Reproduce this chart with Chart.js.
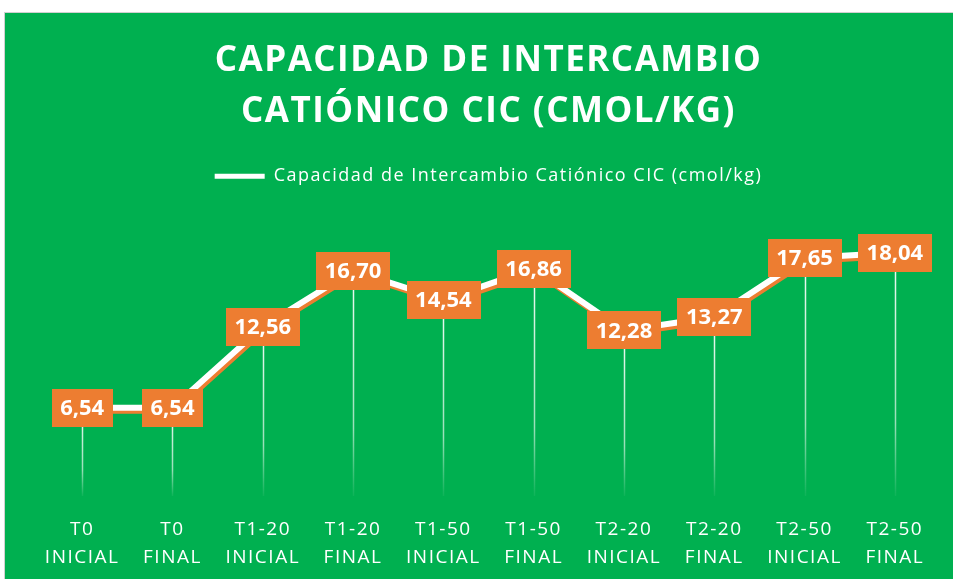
<!DOCTYPE html>
<html>
<head>
<meta charset="utf-8">
<script src="https://cdn.jsdelivr.net/npm/chart.js@4/dist/chart.umd.min.js"></script>
<style>
  html, body { margin: 0; padding: 0; background: #ffffff; }
  #wrap { position: absolute; left: 4px; top: 12px; width: 949px; height: 567px; background: #00B050; border-left: 1px solid #d0d0d0; border-top: 1px solid #d0d0d0; box-sizing: border-box; }
  canvas { display: block; }
</style>
</head>
<body>
<div id="wrap"><canvas id="c"></canvas></div>
<script>
const categories = [
  ["T0", "INICIAL"], ["T0", "FINAL"], ["T1-20", "INICIAL"], ["T1-20", "FINAL"],
  ["T1-50", "INICIAL"], ["T1-50", "FINAL"], ["T2-20", "INICIAL"], ["T2-20", "FINAL"],
  ["T2-50", "INICIAL"], ["T2-50", "FINAL"]
];
const cicValues = [6.54, 6.54, 12.56, 16.70, 14.54, 16.86, 12.28, 13.27, 17.65, 18.04];
const seriesName = "Capacidad de Intercambio Catiónico CIC (cmol/kg)";
const titleLines = ["CAPACIDAD DE INTERCAMBIO", "CATIÓNICO CIC (CMOL/KG)"];

const ORANGE = "#ED7D31";

const spacing = {
  id: "spacing",
  beforeUpdate(chart) { chart.ctx.letterSpacing = "1.5px"; },
  beforeLayout(chart) { chart.ctx.letterSpacing = "1.5px"; },
  beforeDraw(chart) { chart.ctx.letterSpacing = "1.5px"; }
};

const dropLines = {
  id: "dropLines",
  beforeDatasetsDraw(chart) {
    const ctx = chart.ctx;
    const meta = chart.getDatasetMeta(0);
    const bottom = chart.scales.y.getPixelForValue(0);
    ctx.save();
    meta.data.forEach(pt => {
      const g = ctx.createLinearGradient(0, pt.y, 0, bottom);
      g.addColorStop(0, "rgba(255,255,255,0.95)");
      g.addColorStop(0.7, "rgba(255,255,255,0.6)");
      g.addColorStop(1, "rgba(255,255,255,0.05)");
      ctx.strokeStyle = g;
      ctx.lineWidth = 1.5;
      ctx.beginPath();
      ctx.moveTo(Math.round(pt.x) + 0.5, pt.y);
      ctx.lineTo(Math.round(pt.x) + 0.5, bottom);
      ctx.stroke();
    });
    ctx.restore();
  }
};

const lineShadow = {
  id: "lineShadow",
  beforeDatasetDraw(chart) {
    const ctx = chart.ctx;
    ctx.save();
    ctx.shadowColor = ORANGE;
    ctx.shadowOffsetX = 2;
    ctx.shadowOffsetY = 3;
    ctx.shadowBlur = 0;
  },
  afterDatasetDraw(chart) {
    chart.ctx.restore();
  }
};

const valueLabels = {
  id: "valueLabels",
  afterDatasetsDraw(chart) {
    const ctx = chart.ctx;
    const meta = chart.getDatasetMeta(0);
    const data = chart.data.datasets[0].data;
    ctx.save();
    ctx.letterSpacing = "0px";
    ctx.font = "bold 22px 'Open Sans'";
    ctx.textAlign = "center";
    ctx.textBaseline = "middle";
    meta.data.forEach((pt, i) => {
      const txt = data[i].toFixed(2).replace(".", ",");
      const w = ctx.measureText(txt).width + 17;
      const h = 38;
      ctx.fillStyle = ORANGE;
      ctx.fillRect(Math.round(pt.x - w / 2), Math.round(pt.y - h / 2), Math.round(w), h);
      ctx.fillStyle = "#ffffff";
      ctx.fillText(txt, pt.x, pt.y + 1);
    });
    ctx.restore();
  }
};

new Chart(document.getElementById("c"), {
  type: "line",
  data: {
    labels: categories,
    datasets: [{
      label: seriesName,
      data: cicValues,
      borderColor: "#ffffff",
      backgroundColor: "#ffffff",
      borderWidth: 6,
      pointRadius: 0,
      tension: 0,
      fill: false
    }]
  },
  options: {
    responsive: true,
    maintainAspectRatio: false,
    animation: false,
    layout: { padding: { left: 32, right: 13, top: 22, bottom: -12 } },
    plugins: {
      title: {
        display: true,
        text: titleLines,
        color: "#ffffff",
        font: { family: "'Open Sans'", size: 35, weight: "bold", lineHeight: 1.46 },
        padding: { top: 0, bottom: 20 }
      },
      legend: {
        display: true,
        labels: {
          color: "#ffffff",
          font: { family: "'Open Sans'", size: 18 },
          boxWidth: 50,
          boxHeight: 5,
          padding: 10,
          generateLabels(chart) {
            const items = Chart.defaults.plugins.legend.labels.generateLabels(chart);
            items.forEach(it => { it.lineWidth = 0; it.fillStyle = "#ffffff"; });
            return items;
          }
        }
      },
      tooltip: { enabled: false }
    },
    scales: {
      x: {
        offset: true,
        grid: { display: false, drawTicks: false },
        border: { display: false },
        ticks: {
          color: "#ffffff",
          font: { family: "'Open Sans'", size: 19, lineHeight: 1.5 },
          padding: 19,
          maxRotation: 0,
          autoSkip: false
        }
      },
      y: {
        display: false,
        min: 0,
        max: 22.3
      }
    }
  },
  plugins: [spacing, dropLines, lineShadow, valueLabels]
});
</script>
</body>
</html>
